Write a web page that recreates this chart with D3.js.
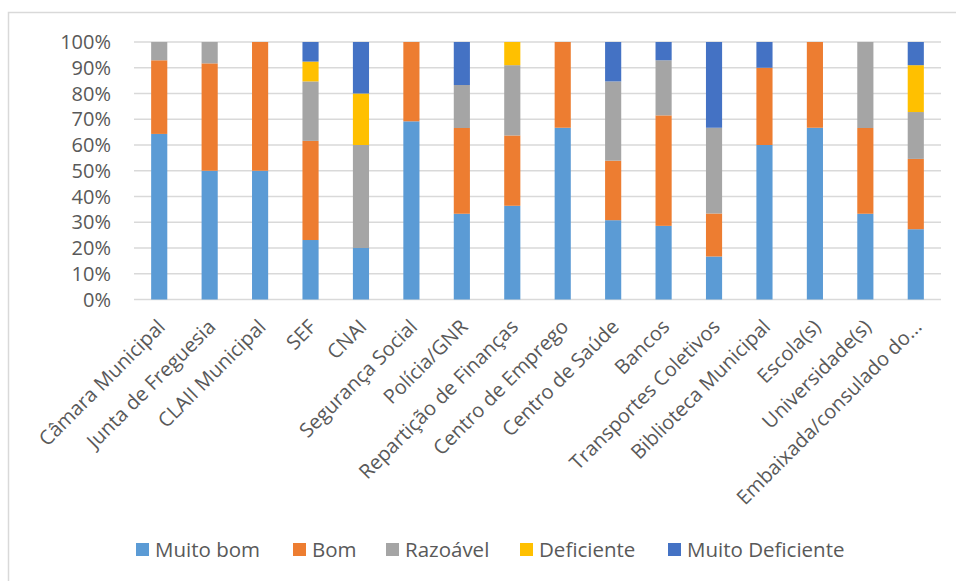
<!DOCTYPE html>
<html>
<head>
<meta charset="utf-8">
<script src="https://cdn.jsdelivr.net/npm/d3@7"></script>
<style>
  html, body { margin: 0; padding: 0; background: #fff; }
  svg { display: block; }
</style>
</head>
<body>
<svg id="chart" width="956" height="581"></svg>
<script>
// Services rated by respondents (percent of answers per rating)
const categories = [
  "Câmara Municipal", "Junta de Freguesia", "CLAII Municipal", "SEF", "CNAI",
  "Segurança Social", "Polícia/GNR", "Repartição de Finanças", "Centro de Emprego",
  "Centro de Saúde", "Bancos", "Transportes Coletivos", "Biblioteca Municipal",
  "Escola(s)", "Universidade(s)", "Embaixada/consulado do..."
];
const muitoBom        = [64.3, 50, 50, 23.1, 20, 69.2, 33.3, 36.4, 66.7, 30.8, 28.6, 16.7, 60, 66.7, 33.3, 27.3];
const bom             = [28.6, 41.7, 50, 38.5, 0, 30.8, 33.3, 27.3, 33.3, 23.1, 42.9, 16.7, 30, 33.3, 33.3, 27.3];
const razoavel        = [7.1, 8.3, 0, 23.1, 40, 0, 16.7, 27.3, 0, 30.8, 21.4, 33.3, 0, 0, 33.4, 18.2];
const deficiente      = [0, 0, 0, 7.7, 20, 0, 0, 9.0, 0, 0, 0, 0, 0, 0, 0, 18.2];
const muitoDeficiente = [0, 0, 0, 7.6, 20, 0, 16.7, 0, 0, 15.3, 7.1, 33.3, 10, 0, 0, 9.0];

const seriesNames  = ["Muito bom", "Bom", "Razoável", "Deficiente", "Muito Deficiente"];
const seriesColors = ["#5B9BD5", "#ED7D31", "#A5A5A5", "#FFC000", "#4472C4"];
const yTicks = [0, 10, 20, 30, 40, 50, 60, 70, 80, 90, 100];

const seriesValues = [muitoBom, bom, razoavel, deficiente, muitoDeficiente];
const rows = categories.map((c, i) => {
  const r = { category: c };
  seriesNames.forEach((s, k) => { r[s] = seriesValues[k][i]; });
  return r;
});
// 100% stacked: normalise each category to its total
const stacked = d3.stack().keys(seriesNames).offset(d3.stackOffsetExpand)(rows);

const svg = d3.select("#chart");
const plotLeft = 134, plotRight = 941;

// chart frame
svg.append("rect")
  .attr("x", 8.5).attr("y", 12.5)
  .attr("width", 960).attr("height", 600)
  .attr("fill", "none").attr("stroke", "#D9D9D9").attr("stroke-width", 1.5);

const x = d3.scaleBand()
  .domain(categories)
  .range([plotLeft, plotRight])
  .paddingInner(0.68)
  .paddingOuter(0.34);

const y = d3.scaleLinear().domain([0, 1]).range([299.5, 42]);

// gridlines
svg.append("g")
  .selectAll("line")
  .data(yTicks)
  .join("line")
  .attr("x1", plotLeft).attr("x2", plotRight)
  .attr("y1", d => y(d / 100)).attr("y2", d => y(d / 100))
  .attr("stroke", "#D9D9D9").attr("stroke-width", 1.3);

// y tick labels
svg.append("g")
  .selectAll("text")
  .data(yTicks)
  .join("text")
  .attr("x", 111)
  .attr("y", d => y(d / 100))
  .attr("dy", "0.36em")
  .attr("text-anchor", "end")
  .attr("font-family", "'Open Sans', sans-serif")
  .attr("font-size", 20)
  .attr("fill", "#595959")
  .text(d => d + "%");

// bars
svg.append("g")
  .selectAll("g")
  .data(stacked)
  .join("g")
  .attr("fill", (d, i) => seriesColors[i])
  .selectAll("rect")
  .data(d => d)
  .join("rect")
  .attr("x", d => x(d.data.category))
  .attr("width", x.bandwidth())
  .attr("y", d => y(d[1]))
  .attr("height", d => y(d[0]) - y(d[1]));

// category labels, rotated
svg.append("g")
  .selectAll("text")
  .data(categories)
  .join("text")
  .attr("transform", d => `translate(${x(d) + x.bandwidth() / 2 + 2},${323}) rotate(-45)`)
  .attr("text-anchor", "end")
  .attr("dy", "0.36em")
  .attr("font-family", "'Open Sans', sans-serif")
  .attr("font-size", 20)
  .attr("fill", "#595959")
  .text(d => d);

// legend
const legendX = [136, 293, 386, 520, 668];
const legend = svg.append("g");
seriesNames.forEach((s, i) => {
  legend.append("rect")
    .attr("x", legendX[i]).attr("y", 543)
    .attr("width", 13).attr("height", 13)
    .attr("fill", seriesColors[i]);
  legend.append("text")
    .attr("x", legendX[i] + 19).attr("y", 557)
    .attr("font-family", "'Open Sans', sans-serif")
    .attr("font-size", 20.5)
    .attr("fill", "#595959")
    .text(s);
});
</script>
</body>
</html>
